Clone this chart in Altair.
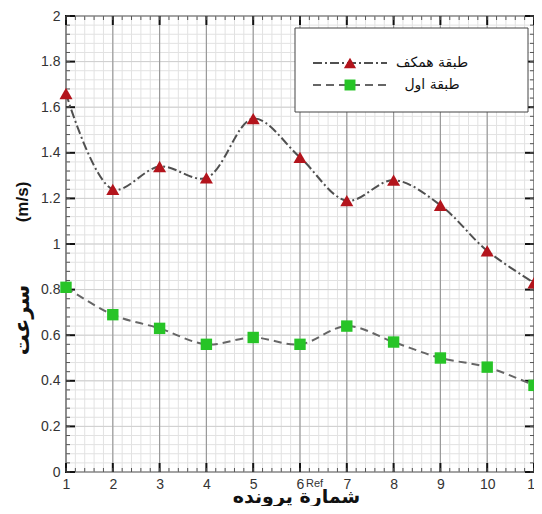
import altair as alt
import pandas as pd
import numpy as np

# ---- data ----
probe = list(range(1, 12))
ground_floor = [1.66, 1.24, 1.34, 1.29, 1.55, 1.38, 1.19, 1.28, 1.17, 0.97, 0.83]
first_floor = [0.81, 0.69, 0.63, 0.56, 0.59, 0.56, 0.64, 0.57, 0.50, 0.46, 0.38]
series_names = ["طبقة همكف", "طبقة اول"]
x_ticks = list(range(1, 12))
y_ticks = [0, 0.2, 0.4, 0.6, 0.8, 1, 1.2, 1.4, 1.6, 1.8, 2]
x_title = "شمارة پرونده"
y_title_parts = ["(m/s)", "سرعت"]
ref_note = ["Ref"]

W, H = 468, 456
ARABIC = "DejaVu Sans"
LATIN = "Liberation Sans"

x_minor = [round(v, 2) for v in np.arange(1, 11.001, 0.2)]
y_minor = [round(v, 3) for v in np.arange(0, 2.0001, 0.04)]

xs = alt.Scale(domain=[1, 11], nice=False, zero=False)
ys = alt.Scale(domain=[0, 2], nice=False, zero=True)

xaxis = alt.Axis(values=x_ticks, ticks=False, domain=False, grid=False,
                 labelFont=LATIN, labelFontSize=14, labelColor="#333",
                 labelPadding=5, labelFlush=False,
                 title=x_title, titleFont=ARABIC, titleFontSize=19,
                 titleFontWeight="bold", titleColor="#111",
                 titleX=W / 2 - 4, titleY=30, titleAlign="center",
                 titleBaseline="alphabetic")
yaxis = alt.Axis(values=y_ticks, ticks=False, domain=False, grid=False,
                 labelFont=LATIN, labelFontSize=14, labelColor="#333",
                 labelPadding=6, labelFlush=False, labelExpr="format(datum.value, '~g')",
                 title="")

X = alt.X("x:Q", scale=xs, axis=xaxis)
Y = alt.Y("y:Q", scale=ys, axis=yaxis)

df_top = pd.DataFrame({"x": probe, "y": ground_floor})
df_bot = pd.DataFrame({"x": probe, "y": first_floor})
df_xmin = pd.DataFrame({"x": x_minor})
df_ymin = pd.DataFrame({"y": y_minor})
df_xmaj = pd.DataFrame({"x": x_ticks})
df_ymaj = pd.DataFrame({"y": y_ticks})
one = pd.DataFrame({"k": [0]})

layers = []
# grid
layers.append(alt.Chart(df_xmin).mark_rule(color="#e2e2e2", strokeWidth=1).encode(x=X))
layers.append(alt.Chart(df_ymin).mark_rule(color="#e2e2e2", strokeWidth=1).encode(y=Y))
layers.append(alt.Chart(df_ymaj).mark_rule(color="#cfcfcf", strokeWidth=1).encode(y=Y))
layers.append(alt.Chart(df_xmaj).mark_rule(color="#9a9a9a", strokeWidth=1.2).encode(x=X))

# inward ticks
tick_c = "#111"
layers.append(alt.Chart(df_ymaj).mark_rule(color=tick_c, strokeWidth=2).encode(
    y=Y, x=alt.value(0), x2=alt.value(9)))
layers.append(alt.Chart(df_ymaj).mark_rule(color=tick_c, strokeWidth=2).encode(
    y=Y, x=alt.value(W - 9), x2=alt.value(W)))
layers.append(alt.Chart(df_ymin).mark_rule(color="#555", strokeWidth=1).encode(
    y=Y, x=alt.value(0), x2=alt.value(4)))
layers.append(alt.Chart(df_ymin).mark_rule(color="#555", strokeWidth=1).encode(
    y=Y, x=alt.value(W - 4), x2=alt.value(W)))
layers.append(alt.Chart(df_xmaj).mark_rule(color=tick_c, strokeWidth=2).encode(
    x=X, y=alt.value(H), y2=alt.value(H - 9)))
layers.append(alt.Chart(df_xmaj).mark_rule(color=tick_c, strokeWidth=2).encode(
    x=X, y=alt.value(0), y2=alt.value(9)))
layers.append(alt.Chart(df_xmin).mark_rule(color="#555", strokeWidth=1).encode(
    x=X, y=alt.value(H), y2=alt.value(H - 4)))
layers.append(alt.Chart(df_xmin).mark_rule(color="#555", strokeWidth=1).encode(
    x=X, y=alt.value(0), y2=alt.value(4)))

# series
TOP_DASH = [9, 3, 2, 3]
BOT_DASH = [8, 5]
RED = "#b3141c"
GREEN = "#27c427"
layers.append(alt.Chart(df_top).mark_line(color="#505050", strokeWidth=2, strokeDash=TOP_DASH,
                                          interpolate="catmull-rom").encode(x=X, y=Y))
layers.append(alt.Chart(df_bot).mark_line(color="#666", strokeWidth=2, strokeDash=BOT_DASH,
                                          interpolate="catmull-rom").encode(x=X, y=Y))
layers.append(alt.Chart(df_top).mark_point(shape="triangle-up", filled=True, opacity=1,
                                           color=RED, size=170).encode(x=X, y=Y))
layers.append(alt.Chart(df_bot).mark_square(color=GREEN, opacity=1, size=130).encode(x=X, y=Y))

# Ref note
df_ref = pd.DataFrame({"x": [6], "y": [0], "t": ref_note})
layers.append(alt.Chart(df_ref).mark_text(font=LATIN, fontSize=11, color="#333", align="left",
                                          baseline="middle", dx=6, dy=12).encode(x=X, y=Y, text="t:N"))

# y-axis title (two parts, rotated)
df_yt = pd.DataFrame({"t": y_title_parts, "yy": [186, 304], "fs": [17, 21]})
for i, part in enumerate(y_title_parts):
    layers.append(alt.Chart(df_yt.iloc[[i]]).mark_text(
        font=ARABIC if i == 1 else LATIN, fontSize=int(df_yt.fs[i]), fontWeight="bold",
        color="#111", angle=270, align="center", baseline="middle").encode(
        x=alt.value(-43), y=alt.Y("yy:Q", scale=None, axis=None), text="t:N"))

# legend (manual)
LX0, LX1, LY0, LY1 = 229, 462, 12, 96
layers.append(alt.Chart(one).mark_rect(fill="white", stroke="#444", strokeWidth=1).encode(
    x=alt.value(LX0), x2=alt.value(LX1), y=alt.value(LY0), y2=alt.value(LY1)))
leg_y = [47, 69]
layers.append(alt.Chart(one).mark_rule(color="#505050", strokeWidth=2, strokeDash=TOP_DASH).encode(
    x=alt.value(247), x2=alt.value(321), y=alt.value(leg_y[0])))
layers.append(alt.Chart(one).mark_rule(color="#666", strokeWidth=2, strokeDash=BOT_DASH).encode(
    x=alt.value(247), x2=alt.value(321), y=alt.value(leg_y[1])))
layers.append(alt.Chart(one).mark_point(shape="triangle-up", filled=True, opacity=1, color=RED,
                                        size=150).encode(x=alt.value(284), y=alt.value(leg_y[0])))
layers.append(alt.Chart(one).mark_square(color=GREEN, opacity=1, size=120).encode(
    x=alt.value(284), y=alt.value(leg_y[1])))
df_leg = pd.DataFrame({"t": series_names, "yy": leg_y})
layers.append(alt.Chart(df_leg).mark_text(font=ARABIC, fontSize=14, color="#111", align="center",
                                          baseline="middle").encode(
    x=alt.value(366), y=alt.Y("yy:Q", scale=None, axis=None), text="t:N"))

chart = alt.layer(*layers).properties(
    width=W, height=H,
    autosize=alt.AutoSizeParams(type="none"),
    padding={"left": 58, "top": 8, "right": 0, "bottom": 34},
    background="white",
).configure_view(stroke="#111", strokeWidth=2)

chart.save("out.html", embed_options={"renderer": "svg", "actions": False})
